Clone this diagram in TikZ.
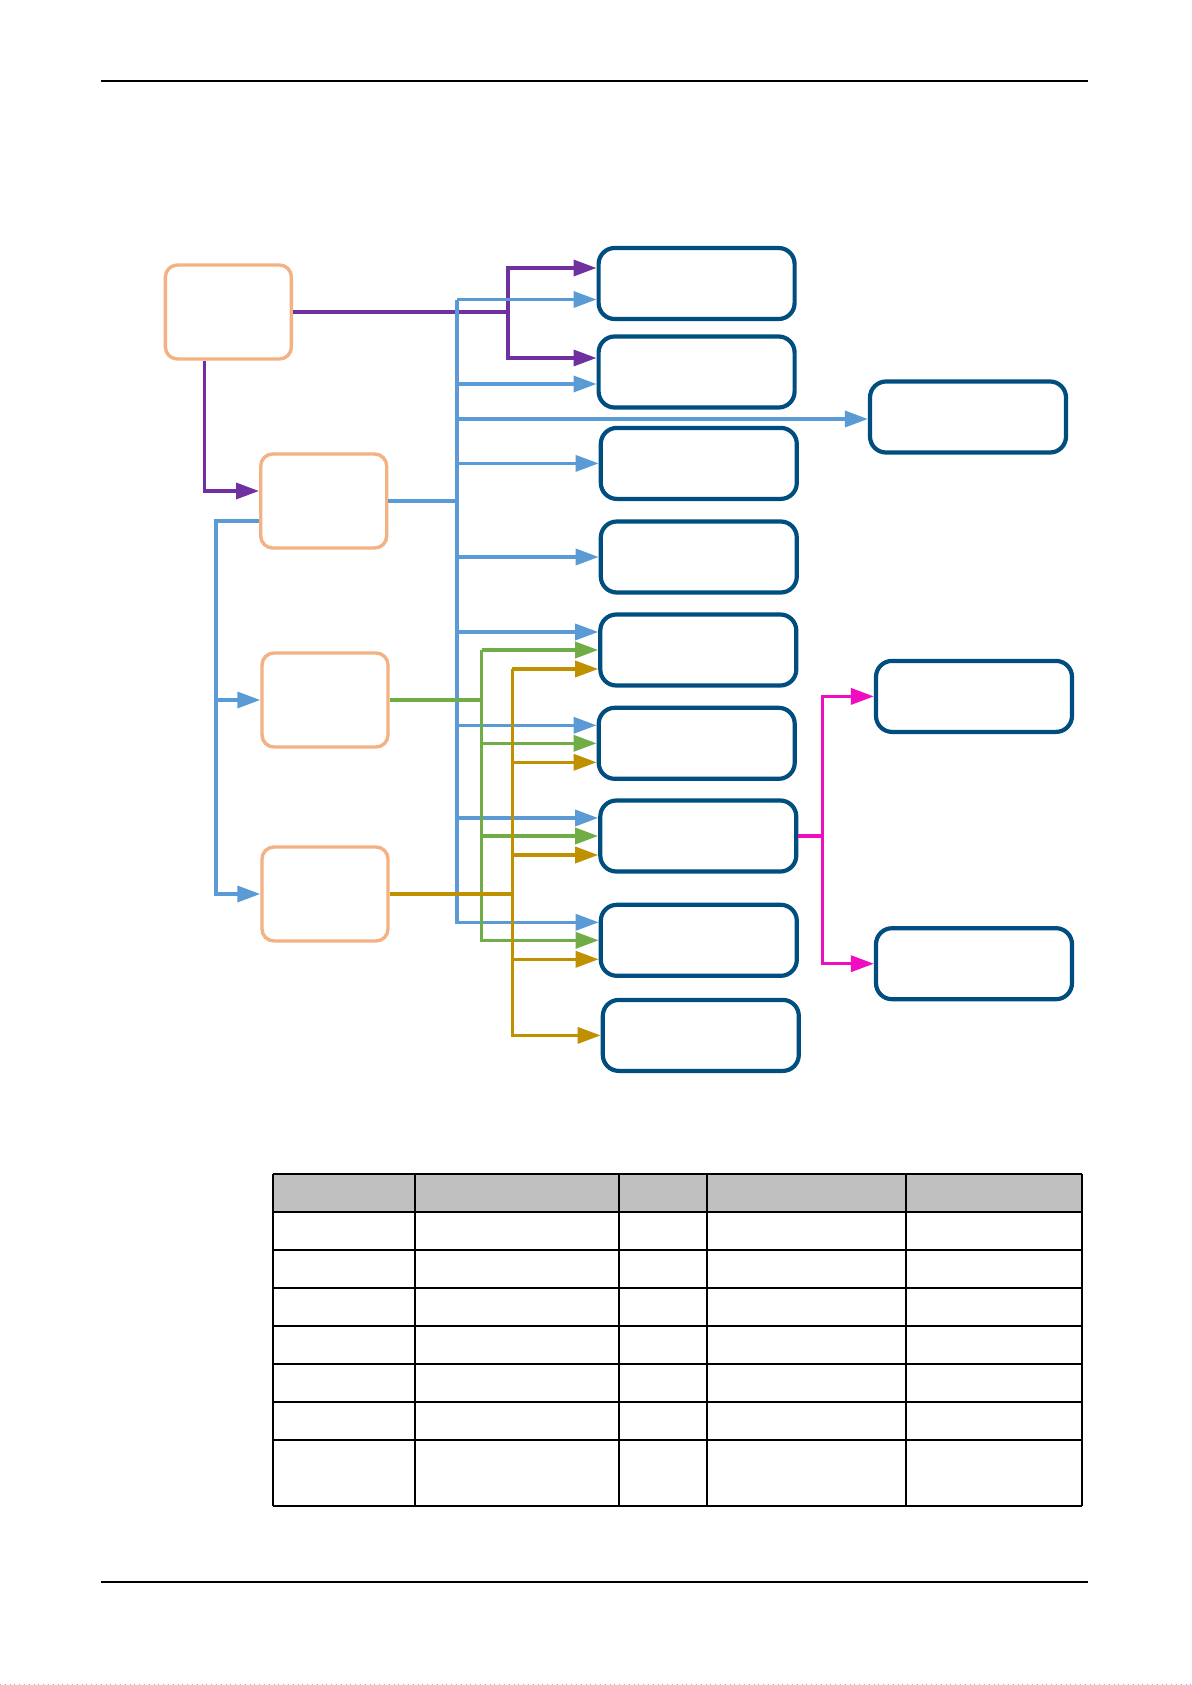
\documentclass[tikz,border=0pt]{standalone}
\usepackage{tikz}
\usepackage{xcolor}
\usetikzlibrary{positioning}
\usetikzlibrary{arrows.meta}
\usetikzlibrary{math}

\definecolor{boxorange}{RGB}{244,177,131}
\definecolor{boxblue}{RGB}{0,78,128}
\definecolor{wireblue}{RGB}{91,155,213}
\definecolor{wirepurple}{RGB}{112,48,160}
\definecolor{wiregreen}{RGB}{112,173,71}
\definecolor{wiregold}{RGB}{191,144,0}
\definecolor{wirepink}{RGB}{240,12,192}
\definecolor{headgray}{RGB}{192,192,192}

\begin{document}
\begin{tikzpicture}[
    x=0.5pt, y=-0.5pt,
    >={Triangle[length=11.5pt,width=8pt]},
    orangebox/.style={draw=boxorange, line width=1.7pt, rounded corners=6pt,
      minimum width=63pt, minimum height=47pt, inner sep=0pt},
    bluebox/.style={draw=boxblue, line width=2.1pt, rounded corners=8pt,
      minimum width=98pt, minimum height=35.5pt, inner sep=0pt},
    wire/.style={line width=1.7pt},
  ]

  \tikzmath{
    \purplex = 508;   % purple fork
    \bluex   = 457;   % blue trunk
    \greenx  = 481.7; % green trunk
    \goldx   = 512.3; % gold trunk
    \leftx   = 216;   % blue trunk on the left
    \pinkx   = 822.3; % pink fork
  }

  % Page
  \path[fill=white] (0,0) rectangle (1192,1685);
  \useasboundingbox (0,0) rectangle (1192,1685);
  \draw[line width=0.65pt] (101,81) -- (1088,81);
  \draw[line width=0.65pt] (101,1582) -- (1088,1582);
  \draw[gray!60, dotted] (0,1684) -- (1192,1684);

  % Sources on the left
  \node[orangebox] (in1) at (228.4,312) {};
  \node[orangebox] (in2) at (323.7,501) {};
  \node[orangebox] (in3) at (325,700)   {};
  \node[orangebox] (in4) at (325,894)   {};

  % Middle column
  \node[bluebox] (out1) at (696.6,283.5)  {};
  \node[bluebox] (out2) at (696.6,372)    {};
  \node[bluebox] (out3) at (698.8,463.4)  {};
  \node[bluebox] (out4) at (698.8,557)    {};
  \node[bluebox] (out5) at (698.3,650)    {};
  \node[bluebox] (out6) at (696.7,743.3)  {};
  \node[bluebox] (out7) at (698.3,836)    {};
  \node[bluebox] (out8) at (698.8,940.3)  {};
  \node[bluebox] (out9) at (700.8,1035.4) {};

  % Right column
  \node[bluebox] (side1) at (968,417)   {};
  \node[bluebox] (side2) at (974,696.4) {};
  \node[bluebox] (side3) at (974,963.7) {};

  \coordinate (px) at (\purplex,0);
  \coordinate (bx) at (\bluex,0);
  \coordinate (gx) at (\greenx,0);
  \coordinate (ox) at (\goldx,0);
  \coordinate (lx) at (\leftx,0);
  \coordinate (mx) at (\pinkx,0);

  % Purple wires
  \draw[wire, wirepurple, ->] (in1.east) -- (in1.east -| px) |- ([yshift=7.75pt]out1.west);
  \draw[wire, wirepurple, ->] (in1.east -| px) |- ([yshift=7pt]out2.west);
  \draw[wire, wirepurple, ->] ([xshift=-12pt]in1.south) |- ([yshift=5pt]in2.west);

  % Blue wires
  \draw[wire, wireblue] (in2.east) -- (in2.east -| bx);
  \draw[wire, wireblue, ->] ([yshift=-8pt]out1.west -| bx) -- ([yshift=-8pt]out1.west);
  \draw[wire, wireblue, ->] ([yshift=-8pt]out1.west -| bx) |- ([yshift=9pt]out8.west);
  \foreach \n/\s in {out2/-6pt, side1/-1pt, out3/0pt, out4/0pt, out5/9pt, out6/9pt, out7/9pt}
    \draw[wire, wireblue, ->] ([yshift=\s]\n.west -| bx) -- ([yshift=\s]\n.west);
  \draw[wire, wireblue, ->] ([yshift=-10pt]in2.west) -- ([yshift=-10pt]in2.west -| lx) |- (in4.west);
  \draw[wire, wireblue, ->] (in3.west -| lx) -- (in3.west);

  % Green wires
  \draw[wire, wiregreen] (in3.east) -- (in3.east -| gx);
  \draw[wire, wiregreen, ->] (out5.west -| gx) |- (out8.west);
  \foreach \n in {out5, out6, out7}
    \draw[wire, wiregreen, ->] (\n.west -| gx) -- (\n.west);

  % Gold wires
  \draw[wire, wiregold] (in4.east) -- (in4.east -| ox);
  \draw[wire, wiregold, ->] ([yshift=-9.5pt]out5.west -| ox) |- (out9.west);
  \foreach \n in {out5, out6, out7, out8}
    \draw[wire, wiregold, ->] ([yshift=-9.5pt]\n.west -| ox) -- ([yshift=-9.5pt]\n.west);

  % Pink wires
  \draw[wire, wirepink, ->] (out7.east) -- (out7.east -| mx) |- (side2.west);
  \draw[wire, wirepink, ->] (out7.east -| mx) |- (side3.west);

  % Table
  \fill[headgray] (273,1174) rectangle (1082,1212);
  \foreach \y in {1174,1212,1250,1288,1326,1364,1402,1440,1506}
    \draw[line width=0.8pt] (273,\y) -- (1082,\y);
  \foreach \x in {273,415,619,707,906,1082}
    \draw[line width=0.8pt] (\x,1174) -- (\x,1506);

\end{tikzpicture}
\end{document}
